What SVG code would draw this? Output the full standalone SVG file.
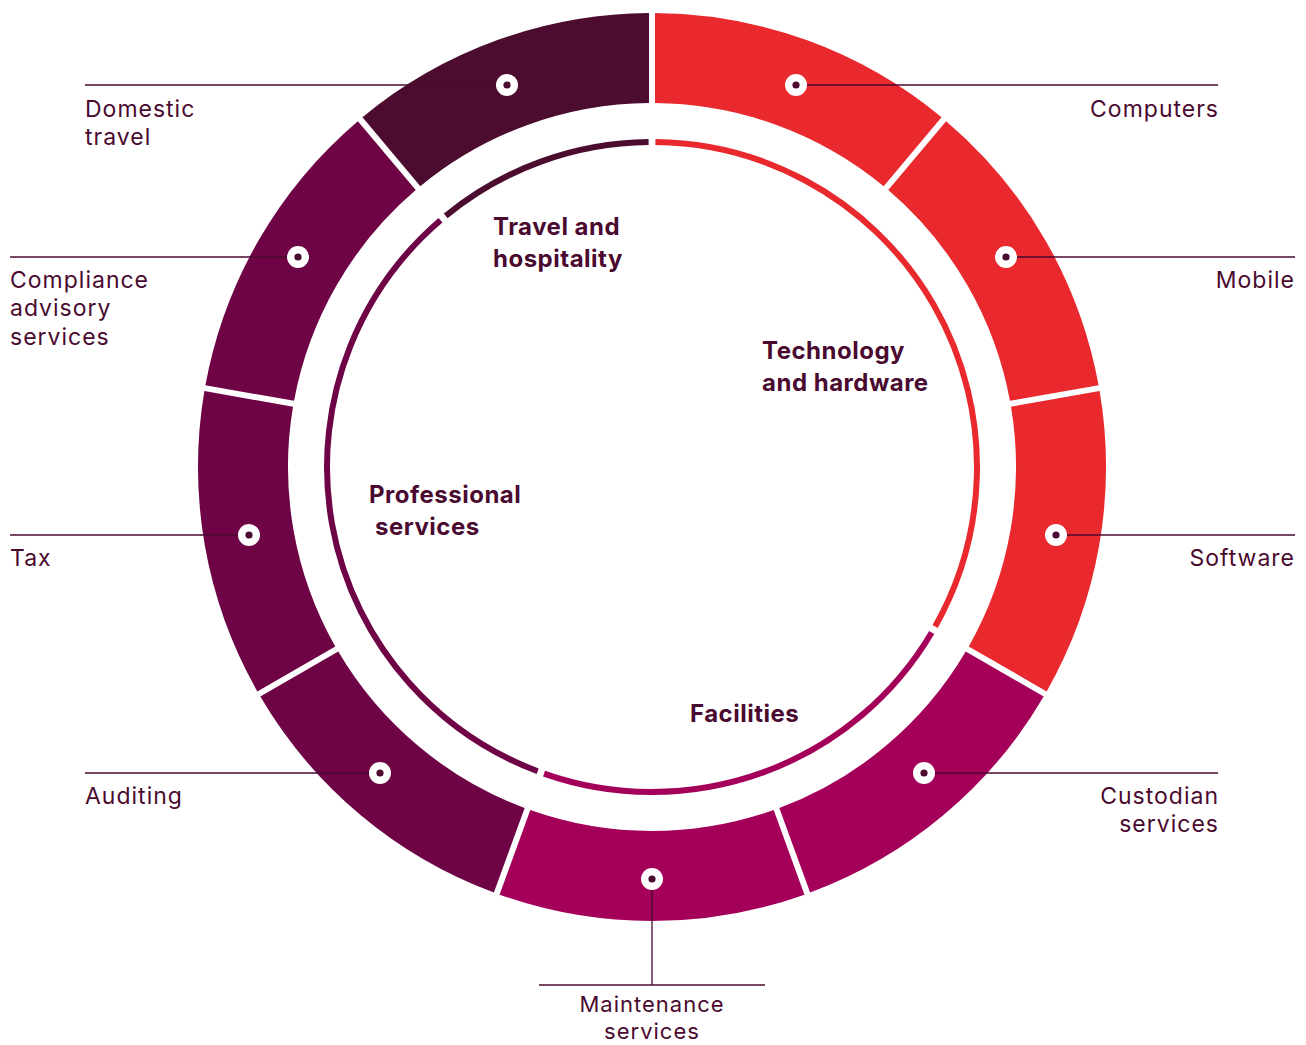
<svg xmlns="http://www.w3.org/2000/svg" width="1306" height="1045" viewBox="0 0 1306 1045">
<style>
.lbl{font-family:Inter,"Noto Sans","Liberation Sans",sans-serif;font-size:23px;letter-spacing:1px;fill:#4a0a30}
.sm{font-size:22px}
.cat{font-family:Inter,"Noto Sans","Liberation Sans",sans-serif;font-size:24px;font-weight:700;letter-spacing:0.5px;fill:#4a0a30}
.lead{stroke:#4a0a30;stroke-width:1.3;fill:none}
.arc{fill:none;stroke-width:6}
.tech{fill:#e9292d}
.fac{fill:#a4005a}
.pro{fill:#6e0446}
.trv{fill:#4b0c30}
</style>
<defs>
<g id="dot"><circle r="11" fill="#ffffff"/><circle r="3.6" fill="#4a0a30"/></g>
</defs>
<rect width="1306" height="1045" fill="#ffffff"/>
<g id="ring">
<path class="tech" d="M655,13 A454,454 0 0 1 941.53,117.29 L883.67,186.23 A364,364 0 0 0 655,103 Z"/>
<path class="tech" d="M946.13,121.15 A454,454 0 0 1 1098.58,385.21 L1009.95,400.84 A364,364 0 0 0 888.27,190.09 Z"/>
<path class="tech" d="M1099.62,391.11 A454,454 0 0 1 1046.68,691.40 L968.73,646.40 A364,364 0 0 0 1010.99,406.74 Z"/>
<path class="fac" d="M1043.68,696.60 A454,454 0 0 1 810.10,892.59 L779.32,808.02 A364,364 0 0 0 965.73,651.60 Z"/>
<path class="fac" d="M804.46,894.65 A454,454 0 0 1 499.54,894.65 L530.32,810.08 A364,364 0 0 0 773.68,810.08 Z"/>
<path class="pro" d="M493.90,892.59 A454,454 0 0 1 260.32,696.60 L338.27,651.60 A364,364 0 0 0 524.68,808.02 Z"/>
<path class="pro" d="M257.32,691.40 A454,454 0 0 1 204.38,391.11 L293.01,406.74 A364,364 0 0 0 335.27,646.40 Z"/>
<path class="pro" d="M205.42,385.21 A454,454 0 0 1 357.87,121.15 L415.73,190.09 A364,364 0 0 0 294.05,400.84 Z"/>
<path class="trv" d="M362.47,117.29 A454,454 0 0 1 649,13 L649,103 A364,364 0 0 0 420.33,186.23 Z"/>
</g>
<g id="inner-ring">
<path class="arc" stroke="#e9292d" d="M655.40,142.02 A325,325 0 0 1 935.14,626.54"/>
<path class="arc" stroke="#a4005a" d="M931.74,632.44 A325,325 0 0 1 544.05,773.55"/>
<path class="arc" stroke="#6e0446" d="M537.65,771.22 A325,325 0 0 1 440.50,220.24"/>
<path class="arc" stroke="#4b0c30" d="M445.71,215.86 A325,325 0 0 1 648.60,142.02"/>
</g>
<g id="connectors">
<line class="lead" x1="796" y1="85" x2="1218" y2="85"/>
<line class="lead" x1="85" y1="85" x2="507" y2="85"/>
<line class="lead" x1="1006" y1="257" x2="1295" y2="257"/>
<line class="lead" x1="10" y1="257" x2="298" y2="257"/>
<line class="lead" x1="1056" y1="535" x2="1295" y2="535"/>
<line class="lead" x1="10" y1="535" x2="249" y2="535"/>
<line class="lead" x1="924" y1="773" x2="1218" y2="773"/>
<line class="lead" x1="85" y1="773" x2="380" y2="773"/>
<line class="lead" x1="652" y1="879" x2="652" y2="985"/>
<line class="lead" x1="539" y1="985" x2="765" y2="985"/>
</g>
<g id="node-computers"><use href="#dot" x="796" y="85"/><text class="lbl" x="1219" y="117" text-anchor="end">Computers</text></g>
<g id="node-mobile"><use href="#dot" x="1006" y="257"/><text class="lbl" x="1295" y="288" text-anchor="end">Mobile</text></g>
<g id="node-software"><use href="#dot" x="1056" y="535"/><text class="lbl" x="1295" y="566" text-anchor="end">Software</text></g>
<g id="node-custodian"><use href="#dot" x="924" y="773"/><text class="lbl" x="1219" y="804" text-anchor="end">Custodian</text><text class="lbl" x="1219" y="832" text-anchor="end">services</text></g>
<g id="node-maintenance"><use href="#dot" x="652" y="879"/><text class="lbl sm" x="652" y="1012" text-anchor="middle">Maintenance</text><text class="lbl sm" x="652" y="1039" text-anchor="middle">services</text></g>
<g id="node-auditing"><use href="#dot" x="380" y="773"/><text class="lbl" x="85" y="804">Auditing</text></g>
<g id="node-tax"><use href="#dot" x="249" y="535"/><text class="lbl" x="10" y="566">Tax</text></g>
<g id="node-compliance"><use href="#dot" x="298" y="257"/><text class="lbl" x="10" y="288">Compliance</text><text class="lbl" x="10" y="316">advisory</text><text class="lbl" x="10" y="345">services</text></g>
<g id="node-domestic"><use href="#dot" x="507" y="85"/><text class="lbl" x="85" y="117">Domestic</text><text class="lbl" x="85" y="145">travel</text></g>
<g id="categories">
<text class="cat" x="493" y="235">Travel and</text>
<text class="cat" x="493" y="267">hospitality</text>
<text class="cat" x="762" y="359">Technology</text>
<text class="cat" x="762" y="391">and hardware</text>
<text class="cat" x="369" y="503">Professional</text>
<text class="cat" x="375" y="535">services</text>
<text class="cat" x="690" y="722">Facilities</text>
</g>
</svg>
